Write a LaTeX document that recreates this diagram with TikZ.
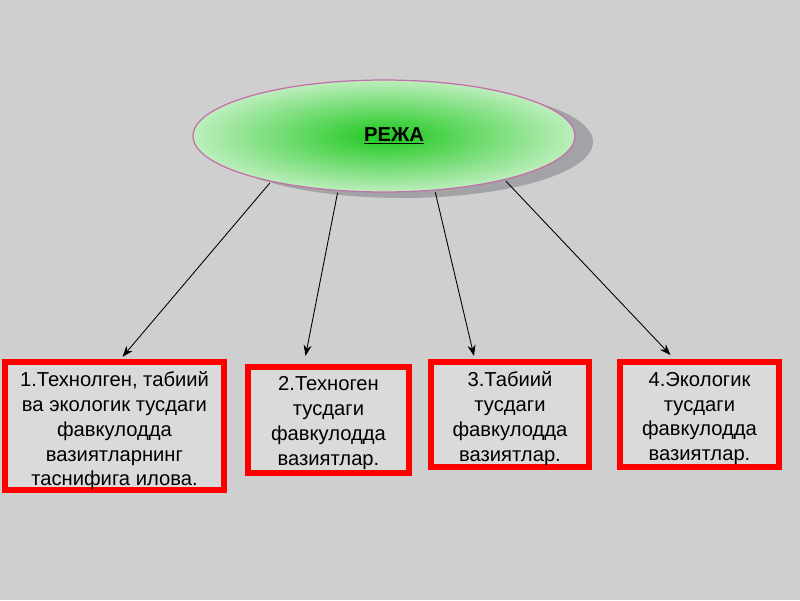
\documentclass[tikz,border=0pt]{standalone}
\usepackage{fontspec}
\setmainfont{Liberation Sans}
\usetikzlibrary{shapes.geometric, calc, arrows.meta}

\definecolor{bggray}{RGB}{207,207,207}
\definecolor{boxgray}{RGB}{218,218,218}
\definecolor{shadowgray}{RGB}{163,163,167}
\definecolor{rimpink}{RGB}{196,110,170}
\definecolor{darkgreen}{RGB}{30,200,30}
\definecolor{lightgreen}{RGB}{188,238,188}

\begin{document}
\begin{tikzpicture}[x=0.02cm, y=-0.02cm, font=\fontsize{11.5}{14.1}\selectfont,
    plan/.style = {draw=rimpink, line width=0.7pt, ellipse, inner color=darkgreen, outer color=lightgreen, minimum width=7.64cm, minimum height=2.24cm},
    item/.style = {draw=red, line width=0.12cm, fill=boxgray, align=center, inner sep=0pt},
    link/.style = {-{Stealth[length=2.2mm, width=1.6mm]}, line width=0.5pt, shorten <=1pt}]
    \fill[bggray] (0,0) rectangle (800,600);
    \useasboundingbox (0,0) rectangle (800,600);
    \fill[shadowgray] (402,142) ellipse [x radius=3.82cm, y radius=1.12cm];
    \node[plan] (0) at (384,136) {\hspace{0.4cm}\textbf{\underline{РЕЖА}}};
    \node[item, minimum width=4.38cm, minimum height=2.56cm] (1) at (114.5,426) {\parbox{4.2cm}{\vspace*{0.2cm}\centering 1.Технолген, табиий\\ва экологик тусдаги\\фавкулодда\\вазиятларнинг\\таснифига илова.}};
    \node[item, minimum width=3.22cm, minimum height=2.12cm] (2) at (328.5,420) {\parbox{3cm}{\vspace*{0.12cm}\centering 2.Техноген\\тусдаги\\фавкулодда\\вазиятлар.}};
    \node[item, minimum width=3.16cm, minimum height=2.1cm] (3) at (510,414.5) {\parbox{3cm}{\vspace*{0.16cm}\centering 3.Табиий\\тусдаги\\фавкулодда\\вазиятлар.}};
    \node[item, minimum width=3.18cm, minimum height=2.1cm] (4) at (699.5,414.5) {\parbox{3cm}{\vspace*{0.16cm}\centering 4.Экологик\\тусдаги\\фавкулодда\\вазиятлар.}};
    \draw[link] (0.202) -- ($(1.north)+(8,-2)$);
    \draw[link] (0.230) -- ($(2.north)+(-23,-8)$);
    \draw[link] (0.313) -- ($(3.north)+(-36,-3)$);
    \draw[link] (0.340) -- ($(4.north)+(-29,-4)$);
\end{tikzpicture}
\end{document}
